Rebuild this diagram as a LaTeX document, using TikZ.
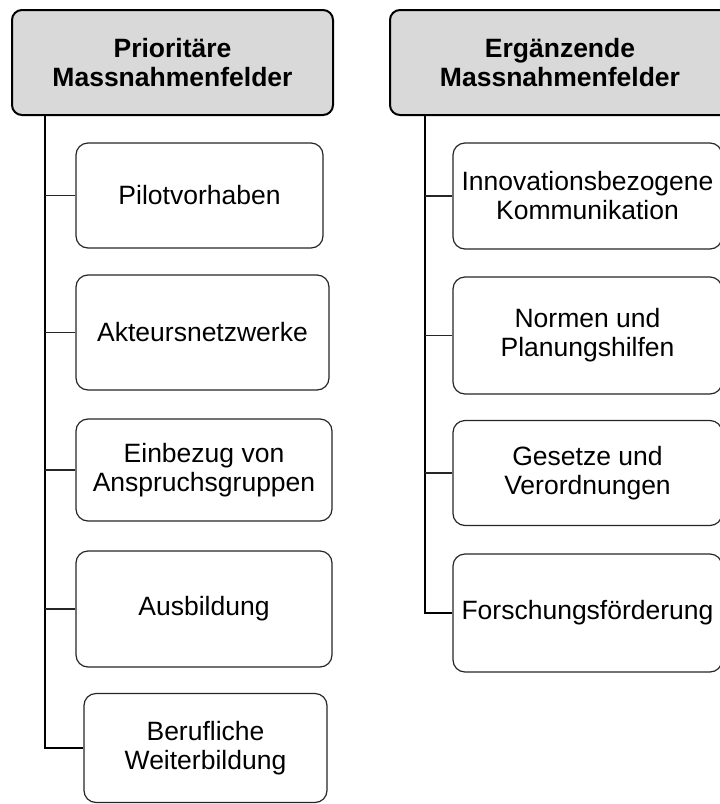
\documentclass[tikz,border=0pt]{standalone}
\usepackage{fontspec}
\setmainfont{Liberation Sans}
\begin{document}
\begin{tikzpicture}[x=1pt,y=-1pt,
  header/.style={draw=black, line width=2pt, fill=gray!30, rounded corners=10pt,
    align=center, inner sep=0pt, font=\fontsize{26.5}{29}\selectfont\bfseries},
  field/.style={draw=black!85, line width=1.2pt, fill=white, rounded corners=12pt,
    align=center, inner sep=0pt, font=\fontsize{26.5}{29}\selectfont},
  trunk/.style={draw=black, line width=1.8pt},
  branch/.style={draw=black!85, line width=1.3pt}]
\useasboundingbox (0,0) rectangle (720,804);

% group headers
\node[header, minimum width=321pt, minimum height=105pt] (hl) at (172.5,62.5)
  {Prioritäre\\Massnahmenfelder};
\node[header, minimum width=340pt, minimum height=105pt] (hr) at (560,62.5)
  {Ergänzende\\Massnahmenfelder};

% trunk anchor points below the headers
\coordinate (tl) at (hl.south -| 45,0);
\coordinate (tr) at (hr.south -| 425,0);

% priority fields
\node[field, minimum width=247pt, minimum height=105pt] (p1) at (199.5,195.5) {Pilotvorhaben};
\node[field, minimum width=253pt, minimum height=115pt] (p2) at (202.5,332.5) {Akteursnetzwerke};
\node[field, minimum width=256pt, minimum height=102pt] (p3) at (204,470) {Einbezug von\\Anspruchsgruppen};
\node[field, minimum width=256pt, minimum height=116pt] (p4) at (204,609) {Ausbildung};
\node[field, minimum width=243pt, minimum height=109pt] (p5) at (205.5,748) {Berufliche\\Weiterbildung};

% complementary fields
\node[field, minimum width=269pt, minimum height=106pt] (r1) at (587.5,196)
  {\fontsize{26.5}{25}\selectfont Innovationsbezogene\\Kommunikation};
\node[field, minimum width=269pt, minimum height=117pt] (r2) at (587.5,335.5) {Normen und\\Planungshilfen};
\node[field, minimum width=269pt, minimum height=105pt] (r3) at (587.5,473) {Gesetze und\\Verordnungen};
\node[field, minimum width=269pt, minimum height=118pt] (r4) at (587.5,613) {Forschungsförderung};

% connectors, left tree
\draw[trunk] (tl) |- (p5.west);
\foreach \n in {p1,p2,p3,p4}
  \draw[branch] (\n.west) -- (\n.west -| tl);

% connectors, right tree
\draw[trunk] (tr) |- (r4.west);
\foreach \n in {r1,r2,r3}
  \draw[branch] (\n.west) -- (\n.west -| tr);
\end{tikzpicture}
\end{document}
